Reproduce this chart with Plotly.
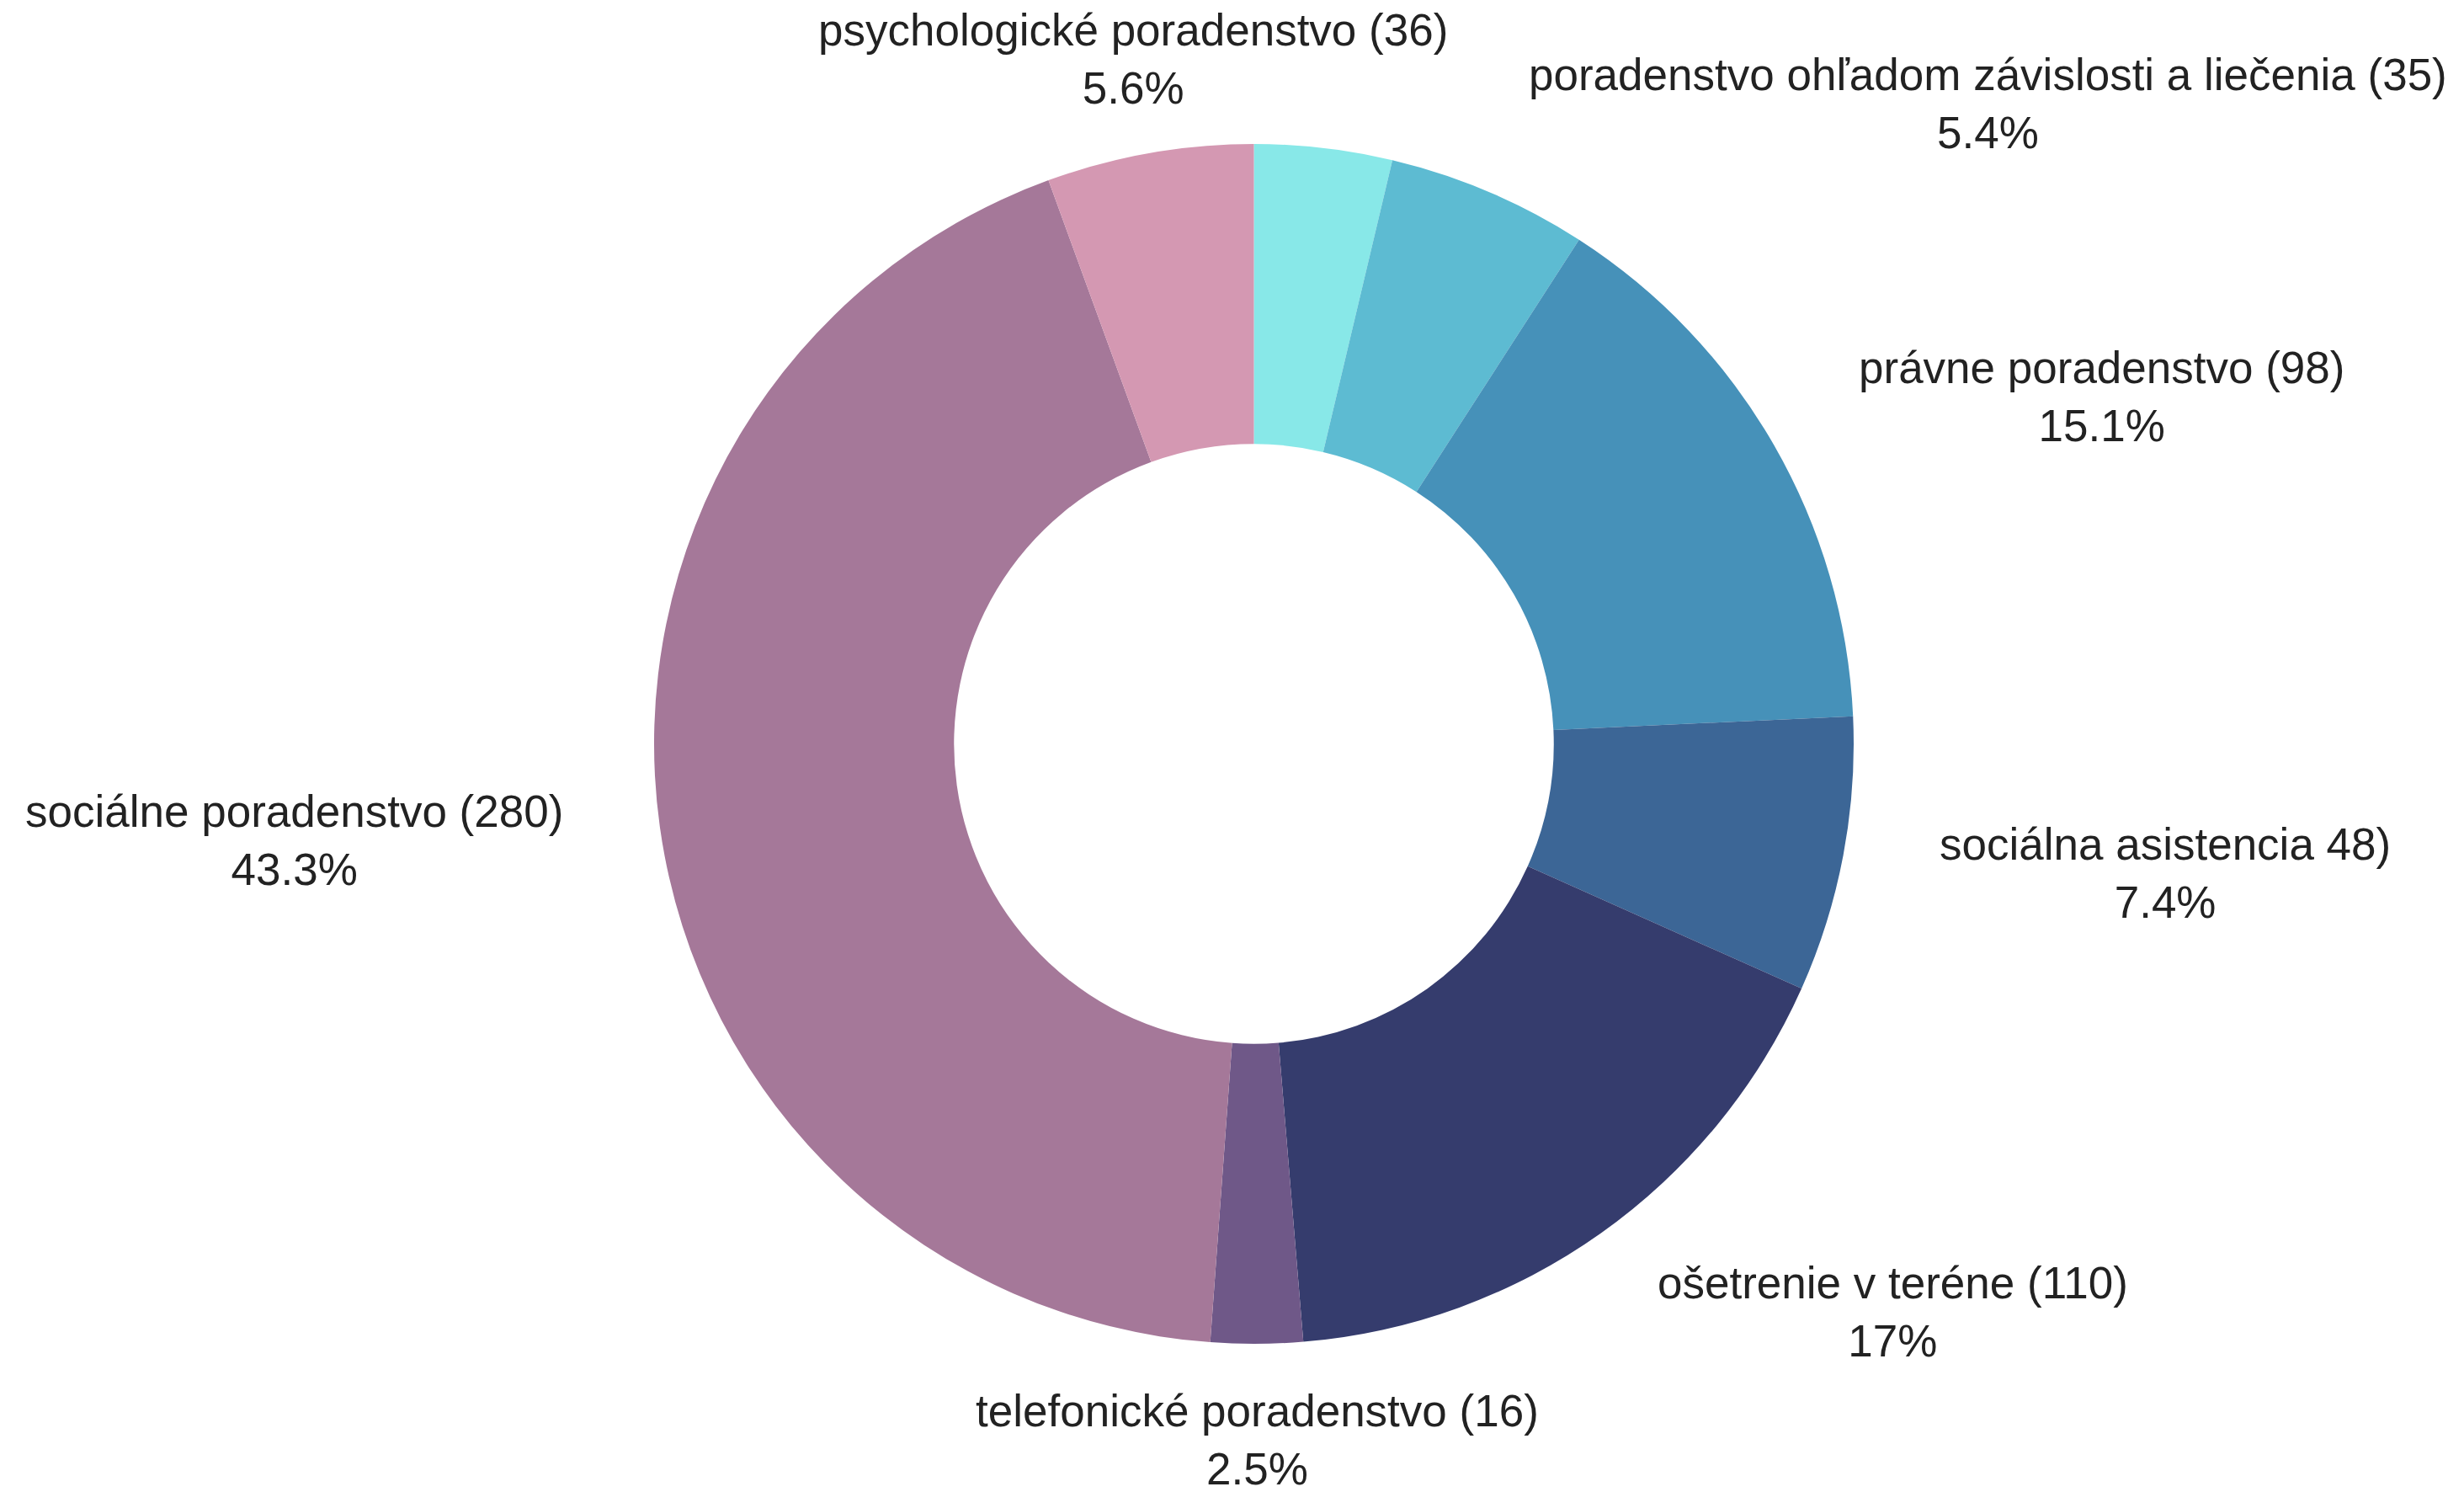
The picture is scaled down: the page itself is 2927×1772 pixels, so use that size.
import math
import plotly.graph_objects as go

categories = [
    "ostatné",
    "poradenstvo ohľadom závislosti a liečenia (35)",
    "právne poradenstvo (98)",
    "sociálna asistencia 48)",
    "ošetrenie v teréne (110)",
    "telefonické poradenstvo (16)",
    "sociálne poradenstvo (280)",
    "psychologické poradenstvo (36)",
]
values = [24, 35, 98, 48, 110, 16, 280, 36]
show_label = [False, True, True, True, True, True, True, True]
colors = ["#88E8E8", "#5DBBD2", "#4691B9", "#3C6696", "#353C6D", "#6F5888", "#A57899", "#D498B2"]

W, H = 2927, 1772
M = dict(l=124, r=88, t=163, b=184)
FONT = "Liberation Sans, Arial, sans-serif"
TEXT_COLOR = "#222222"

fig = go.Figure(go.Pie(
    labels=categories,
    values=values,
    hole=0.5,
    sort=False,
    direction="clockwise",
    rotation=0,
    marker=dict(colors=colors, line=dict(width=0)),
    textinfo="none",
    showlegend=False,
))

# outside labels, placed along each slice's mid-angle
pw = W - M["l"] - M["r"]
ph = H - M["t"] - M["b"]
radius = min(pw, ph) / 2
label_r = radius * 1.16
total = sum(values)
cum = 0
for cat, v, show in zip(categories, values, show_label):
    mid = (cum + v / 2) / total
    cum += v
    if not show:
        continue
    theta = 2 * math.pi * mid
    sx, sy = math.sin(theta), math.cos(theta)
    pct = f"{v / total * 100:.1f}"
    if pct.endswith(".0"):
        pct = pct[:-2]
    if abs(sx) < 0.3:
        xa = "center"
    elif sx > 0:
        xa = "left"
    else:
        xa = "right"
    fig.add_annotation(
        x=0.5 + label_r * sx / pw,
        y=0.5 + label_r * sy / ph,
        xref="paper", yref="paper",
        text=f"{cat}<br>{pct}%",
        showarrow=False,
        xanchor=xa, yanchor="middle",
        align="center",
        font=dict(family=FONT, size=53, color=TEXT_COLOR),
    )

fig.update_layout(
    width=W,
    height=H,
    margin=dict(**M, autoexpand=False),
    paper_bgcolor="white",
    plot_bgcolor="white",
    font=dict(family=FONT, color=TEXT_COLOR),
)

fig.write_html("out.html")
